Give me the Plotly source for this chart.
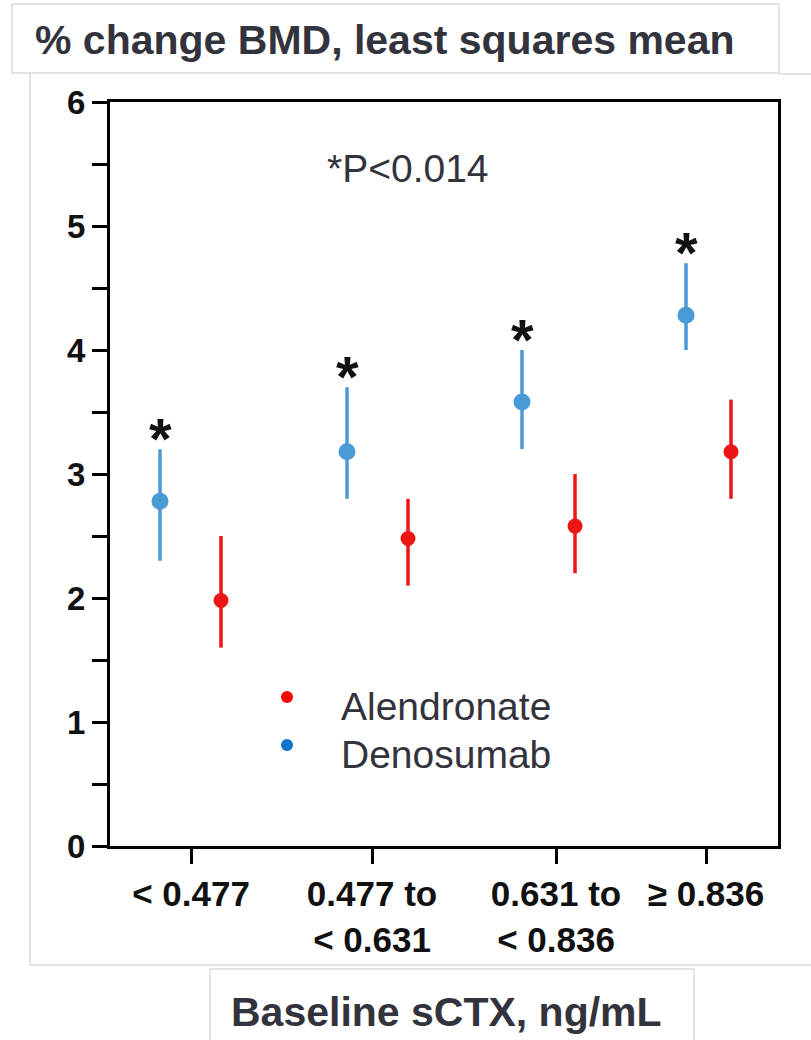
import plotly.graph_objects as go

# ---------------- data ----------------
categories = ["< 0.477", "0.477 to<br>< 0.631", "0.631 to<br>< 0.836", "≥ 0.836"]
deno_mean = [2.78, 3.18, 3.58, 4.28]
deno_upper = [3.20, 3.70, 4.00, 4.70]
deno_lower = [2.30, 2.80, 3.20, 4.00]
alen_mean = [1.98, 2.48, 2.58, 3.18]
alen_upper = [2.50, 2.80, 3.00, 3.60]
alen_lower = [1.60, 2.10, 2.20, 2.80]
series_names = ["Alendronate", "Denosumab"]
y_major = [0, 1, 2, 3, 4, 5, 6]
p_text = "*P<0.014"
y_title = "% change BMD, least squares mean"
x_title = "Baseline sCTX, ng/mL"

# ---------------- layout constants ----------------
W, H = 811, 1040
PL, PR, PT, PB = 110, 778, 102, 846          # plot area in pixels
group_x = [81, 262, 446, 596]                  # tick positions (axis units)
deno_x = [50, 237, 412, 576]
alen_x = [111, 298, 465, 621]

FONT = "Liberation Sans, Arial, sans-serif"
TXT = "#33333d"
BLUE = "#4a9bd5"
RED = "#ee1515"


def px(x):
    return (x - PL) / (PR - PL)


def py(y):
    return (PB - y) / (PB - PT)


fig = go.Figure()

fig.add_trace(go.Scatter(
    x=deno_x, y=deno_mean, mode="markers", name=series_names[1],
    marker=dict(color=BLUE, size=17),
    error_y=dict(type="data", symmetric=False,
                 array=[u - m for u, m in zip(deno_upper, deno_mean)],
                 arrayminus=[m - l for m, l in zip(deno_mean, deno_lower)],
                 color=BLUE, thickness=3.5, width=0),
    showlegend=False))

fig.add_trace(go.Scatter(
    x=alen_x, y=alen_mean, mode="markers", name=series_names[0],
    marker=dict(color=RED, size=15),
    error_y=dict(type="data", symmetric=False,
                 array=[u - m for u, m in zip(alen_upper, alen_mean)],
                 arrayminus=[m - l for m, l in zip(alen_mean, alen_lower)],
                 color=RED, thickness=3.5, width=0),
    showlegend=False))

annotations = []
for xv, up in zip(deno_x, deno_upper):
    annotations.append(dict(x=xv, y=up, xref="x", yref="y", text="<b>*</b>",
                            showarrow=False, yanchor="bottom", yshift=-24,
                            font=dict(family=FONT, size=58, color="#111111")))

annotations.append(dict(x=px(408), y=py(168), xref="paper", yref="paper", text=p_text,
                        showarrow=False, xanchor="center", yanchor="middle",
                        font=dict(family=FONT, size=39, color=TXT)))

# custom legend
leg_items = [(series_names[0], "#ff0000", 697, 706), (series_names[1], "#1273c8", 745, 754)]
shapes = []
for name, col, dy, ty in leg_items:
    shapes.append(dict(type="circle", xref="paper", yref="paper",
                       x0=px(281), x1=px(293), y0=py(dy + 6), y1=py(dy - 6),
                       fillcolor=col, line=dict(width=0)))
    annotations.append(dict(x=px(339), y=py(ty), xref="paper", yref="paper", text=name,
                            showarrow=False, xanchor="left", yanchor="middle",
                            font=dict(family=FONT, size=39, color=TXT)))

# title boxes and frame lines
BOX = "#c9c9c9"
shapes.append(dict(type="rect", xref="paper", yref="paper", x0=px(12), x1=px(779),
                   y0=py(73), y1=py(4), line=dict(color=BOX, width=1), layer="below"))
shapes.append(dict(type="line", xref="paper", yref="paper", x0=px(30), x1=px(30),
                   y0=py(73), y1=py(965), line=dict(color=BOX, width=1)))
shapes.append(dict(type="line", xref="paper", yref="paper", x0=px(30), x1=px(811),
                   y0=py(965), y1=py(965), line=dict(color=BOX, width=1)))
shapes.append(dict(type="line", xref="paper", yref="paper", x0=px(779), x1=px(811),
                   y0=py(74), y1=py(74), line=dict(color=BOX, width=1)))
shapes.append(dict(type="rect", xref="paper", yref="paper", x0=px(210), x1=px(694),
                   y0=py(1045), y1=py(969), line=dict(color=BOX, width=1)))

annotations.append(dict(x=px(33), y=py(40), xref="paper", yref="paper", text=f"<b>{y_title}</b>",
                        showarrow=False, xanchor="left", yanchor="middle",
                        font=dict(family=FONT, size=41, color=TXT)))
annotations.append(dict(x=px(446), y=py(1012), xref="paper", yref="paper", text=f"<b>{x_title}</b>",
                        showarrow=False, xanchor="center", yanchor="middle",
                        font=dict(family=FONT, size=41, color=TXT)))

y_tickvals = [v / 2 for v in range(0, 13)]
y_ticktext = [str(int(v)) if v in y_major else "" for v in y_tickvals]

fig.update_layout(
    width=W, height=H,
    margin=dict(l=PL, r=W - PR, t=PT, b=H - PB, pad=0),
    paper_bgcolor="white", plot_bgcolor="white",
    showlegend=False,
    annotations=annotations, shapes=shapes,
    xaxis=dict(range=[0, PR - PL], tickmode="array", tickvals=group_x, ticktext=categories,
               showgrid=False, zeroline=False, showline=True, linecolor="black", linewidth=3,
               mirror=True, ticks="outside", ticklen=15, tickwidth=3, tickcolor="black",
               ticklabelstandoff=0,
               tickfont=dict(family=FONT, size=35, color="#111111", weight="bold")),
    yaxis=dict(range=[0, 6], tickmode="array", tickvals=y_tickvals, ticktext=y_ticktext,
               showgrid=False, zeroline=False, showline=True, linecolor="black", linewidth=3,
               mirror=True, ticks="outside", ticklen=15, tickwidth=3, tickcolor="black",
               ticklabelstandoff=0,
               tickfont=dict(family=FONT, size=33, color="#111111", weight="bold")),
)

fig.write_html("out.html")
